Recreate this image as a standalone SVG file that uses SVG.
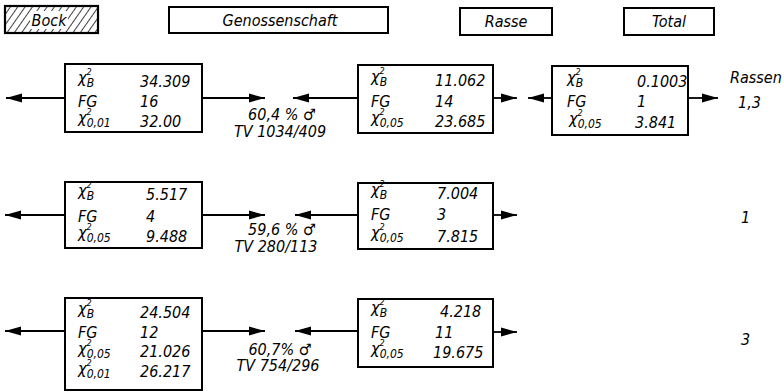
<svg xmlns="http://www.w3.org/2000/svg" width="784" height="392" viewBox="0 0 784 392">
<defs>
<marker id="ah" markerUnits="userSpaceOnUse" markerWidth="18" markerHeight="10" refX="16" refY="5" orient="auto">
<path d="M0,0.5 L16,5 L0,9.5 Z" fill="#000"/>
</marker>
<pattern id="hatch" patternUnits="userSpaceOnUse" width="6" height="6" patternTransform="rotate(35)">
<line x1="0" y1="0" x2="0" y2="6" stroke="#000" stroke-width="1.5"/>
</pattern>
<style>
text{font-family:"DejaVu Sans Condensed","Liberation Sans",sans-serif;font-style:italic;font-size:16px;fill:#000}
.box{fill:#fff;stroke:#000;stroke-width:2}
.sup{font-size:9px}
.sub{font-size:12px}
.c line{stroke:#000;stroke-width:1.8;marker-end:url(#ah)}
.mid{text-anchor:middle}
</style>
</defs>
<rect width="784" height="392" fill="#fff"/>

<g id="legend-bock">
<rect x="5" y="6" width="93" height="27" fill="url(#hatch)" stroke="#000" stroke-width="2.2"/>
<rect x="30" y="11" width="38" height="18" fill="#fff"/>
<text x="49" y="26" class="mid">Bock</text>
</g>
<g id="legend-genossenschaft">
<rect x="169" y="7" width="219" height="26" class="box"/>
<text x="280" y="26" class="mid">Genossenschaft</text>
</g>
<g id="legend-rasse">
<rect x="460" y="8" width="92" height="27" class="box"/>
<text x="506" y="27" class="mid">Rasse</text>
</g>
<g id="legend-total">
<rect x="624" y="8" width="90" height="27" class="box"/>
<text x="669" y="27" class="mid">Total</text>
</g>

<g id="connectors" class="c">
<line x1="65" y1="98" x2="6" y2="98"/>
<line x1="202" y1="98" x2="265" y2="98"/>
<line x1="358" y1="98" x2="293" y2="98"/>
<line x1="493" y1="98" x2="517" y2="98"/>
<line x1="552" y1="98" x2="528" y2="98"/>
<line x1="688" y1="98" x2="718" y2="98"/>
<line x1="65" y1="215" x2="5" y2="215"/>
<line x1="202" y1="215" x2="265" y2="215"/>
<line x1="358" y1="215" x2="295" y2="215"/>
<line x1="493" y1="215" x2="517" y2="215"/>
<line x1="65" y1="331" x2="5" y2="331"/>
<line x1="202" y1="331" x2="265" y2="331"/>
<line x1="358" y1="331" x2="295" y2="331"/>
<line x1="493" y1="332" x2="517" y2="332"/>
</g>

<g id="r1-bock">
<rect x="65" y="64" width="137" height="68" class="box"/>
<text x="78" y="87"><tspan dy="-4">χ</tspan><tspan class="sup" dy="-8">2</tspan><tspan class="sub" dx="-5" dy="12">B</tspan></text>
<text x="140" y="87">34.309</text>
<text x="78" y="107">FG</text>
<text x="140" y="107">16</text>
<text x="78" y="127"><tspan dy="-4">χ</tspan><tspan class="sup" dy="-8">2</tspan><tspan class="sub" dx="-5" dy="12">0,01</tspan></text>
<text x="140" y="127">32.00</text>
</g>
<g id="r1-label">
<text x="282" y="120" class="mid">60,4 % ♂</text>
<text x="280" y="137" class="mid">TV 1034/409</text>
</g>
<g id="r1-gen">
<rect x="358" y="65" width="135" height="68" class="box"/>
<text x="371" y="86"><tspan dy="-4">χ</tspan><tspan class="sup" dy="-8">2</tspan><tspan class="sub" dx="-5" dy="12">B</tspan></text>
<text x="435" y="86">11.062</text>
<text x="371" y="107">FG</text>
<text x="435" y="107">14</text>
<text x="371" y="127"><tspan dy="-4">χ</tspan><tspan class="sup" dy="-8">2</tspan><tspan class="sub" dx="-5" dy="12">0,05</tspan></text>
<text x="435" y="127">23.685</text>
</g>
<g id="r1-total">
<rect x="552" y="66" width="136" height="69" class="box"/>
<text x="567" y="87"><tspan dy="-4">χ</tspan><tspan class="sup" dy="-8">2</tspan><tspan class="sub" dx="-5" dy="12">B</tspan></text>
<text x="637" y="87">0.1003</text>
<text x="567" y="107">FG</text>
<text x="637" y="107">1</text>
<text x="569" y="128"><tspan dy="-4">χ</tspan><tspan class="sup" dy="-8">2</tspan><tspan class="sub" dx="-5" dy="12">0,05</tspan></text>
<text x="635" y="128">3.841</text>
</g>
<g id="r1-rassen">
<text x="730" y="83">Rassen</text>
<text x="738" y="108">1,3</text>
</g>

<g id="r2-bock">
<rect x="65" y="182" width="137" height="66" class="box"/>
<text x="78" y="200"><tspan dy="-4">χ</tspan><tspan class="sup" dy="-8">2</tspan><tspan class="sub" dx="-5" dy="12">B</tspan></text>
<text x="146" y="200">5.517</text>
<text x="78" y="222">FG</text>
<text x="146" y="222">4</text>
<text x="78" y="242"><tspan dy="-4">χ</tspan><tspan class="sup" dy="-8">2</tspan><tspan class="sub" dx="-5" dy="12">0,05</tspan></text>
<text x="146" y="242">9.488</text>
</g>
<g id="r2-label">
<text x="282" y="235" class="mid">59,6 % ♂</text>
<text x="276" y="252" class="mid">TV 280/113</text>
</g>
<g id="r2-gen">
<rect x="358" y="183" width="135" height="66" class="box"/>
<text x="371" y="199"><tspan dy="-4">χ</tspan><tspan class="sup" dy="-8">2</tspan><tspan class="sub" dx="-5" dy="12">B</tspan></text>
<text x="437" y="199">7.004</text>
<text x="371" y="220">FG</text>
<text x="437" y="220">3</text>
<text x="371" y="242"><tspan dy="-4">χ</tspan><tspan class="sup" dy="-8">2</tspan><tspan class="sub" dx="-5" dy="12">0,05</tspan></text>
<text x="437" y="242">7.815</text>
</g>
<g id="r2-rasse">
<text x="741" y="223">1</text>
</g>

<g id="r3-bock">
<rect x="65" y="298" width="137" height="92" class="box"/>
<text x="78" y="318"><tspan dy="-4">χ</tspan><tspan class="sup" dy="-8">2</tspan><tspan class="sub" dx="-5" dy="12">B</tspan></text>
<text x="140" y="318">24.504</text>
<text x="78" y="338">FG</text>
<text x="140" y="338">12</text>
<text x="78" y="358"><tspan dy="-4">χ</tspan><tspan class="sup" dy="-8">2</tspan><tspan class="sub" dx="-5" dy="12">0,05</tspan></text>
<text x="140" y="357">21.026</text>
<text x="78" y="378"><tspan dy="-4">χ</tspan><tspan class="sup" dy="-8">2</tspan><tspan class="sub" dx="-5" dy="12">0,01</tspan></text>
<text x="140" y="377">26.217</text>
</g>
<g id="r3-label">
<text x="280" y="355" class="mid">60,7% ♂</text>
<text x="278" y="371" class="mid">TV 754/296</text>
</g>
<g id="r3-gen">
<rect x="358" y="299" width="135" height="68" class="box"/>
<text x="371" y="317"><tspan dy="-4">χ</tspan><tspan class="sup" dy="-8">2</tspan><tspan class="sub" dx="-5" dy="12">B</tspan></text>
<text x="440" y="317">4.218</text>
<text x="371" y="338">FG</text>
<text x="435" y="338">11</text>
<text x="371" y="358"><tspan dy="-4">χ</tspan><tspan class="sup" dy="-8">2</tspan><tspan class="sub" dx="-5" dy="12">0,05</tspan></text>
<text x="433" y="358">19.675</text>
</g>
<g id="r3-rasse">
<text x="741" y="345">3</text>
</g>
</svg>
